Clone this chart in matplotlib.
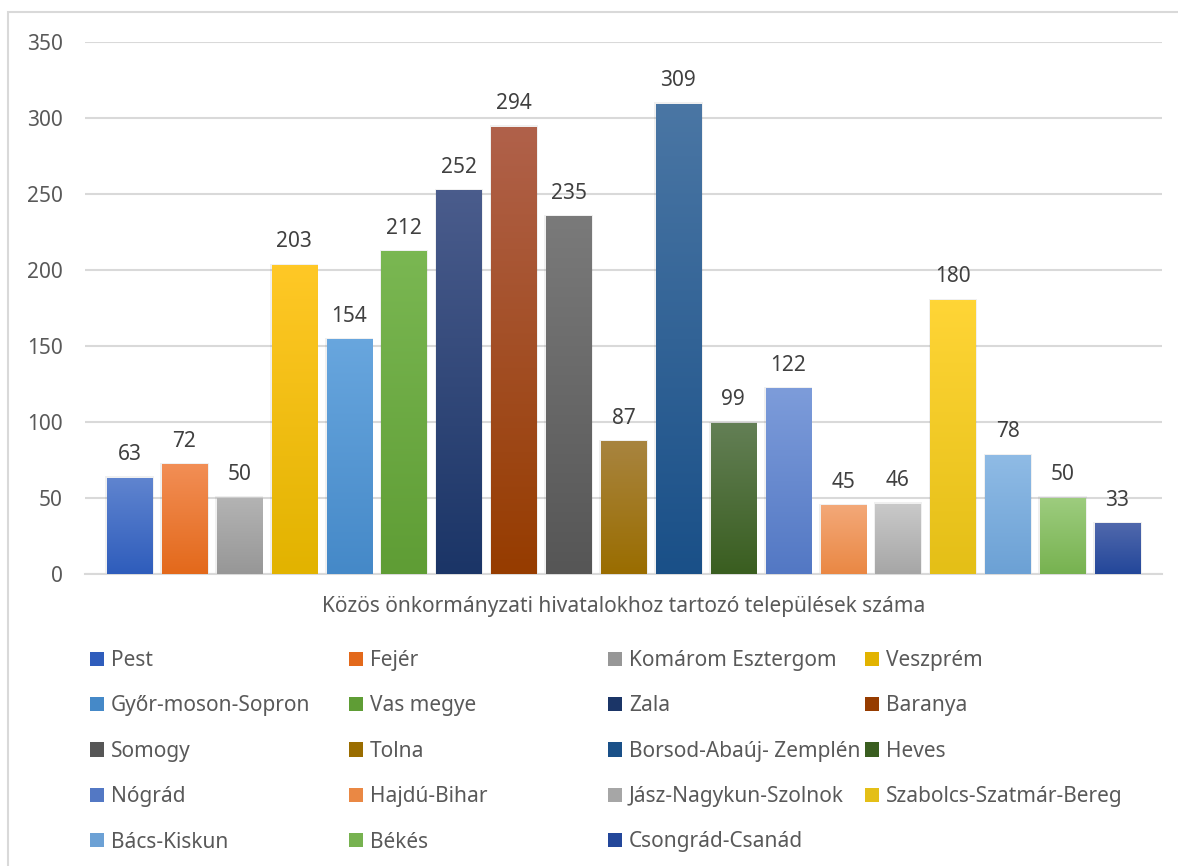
import numpy as np
import matplotlib.pyplot as plt
from matplotlib.patches import Rectangle
from matplotlib.colors import to_rgb

# county names and number of settlements
counties = ["Pest", "Fejér", "Komárom Esztergom", "Veszprém",
            "Győr-moson-Sopron", "Vas megye", "Zala", "Baranya",
            "Somogy", "Tolna", "Borsod-Abaúj- Zemplén", "Heves",
            "Nógrád", "Hajdú-Bihar", "Jász-Nagykun-Szolnok", "Szabolcs-Szatmár-Bereg",
            "Bács-Kiskun", "Békés", "Csongrád-Csanád"]
values = [63, 72, 50, 203, 154, 212, 252, 294, 235, 87, 309, 99,
          122, 45, 46, 180, 78, 50, 33]
yticks = [0, 50, 100, 150, 200, 250, 300, 350]
xlabel = "Közös önkormányzati hivatalokhoz tartozó települések száma"

# excel-ish colours, (top, bottom) of each gradient
colors = [("#5F84CF", "#2F5DBC"), ("#F28E55", "#E3691B"), ("#B3B3B3", "#979797"),
          ("#FFC826", "#E2B300"), ("#68A6DE", "#4589C8"), ("#7AB752", "#5F9D35"),
          ("#4A5C8C", "#1B3567"), ("#B0614A", "#963C00"), ("#7A7A7A", "#565656"),
          ("#A8843F", "#9A6D00"), ("#4A76A4", "#1A5088"), ("#637F55", "#3A5E20"),
          ("#7D9CDA", "#5378C4"), ("#F3A878", "#EA8844"), ("#C9C9C9", "#A6A6A6"),
          ("#FFD536", "#E4BF17"), ("#8FBBE5", "#6CA1D5"), ("#9DCC7E", "#77B250"),
          ("#5068AC", "#23479A")]

txt = "#595959"
grid = "#D9D9D9"
plt.rcParams['font.family'] = ['Noto Sans', 'DejaVu Sans']

W, H = 1178, 866
fig = plt.figure(figsize=(W / 100, H / 100), dpi=100)
# chart frame, only top and left edges fall inside the picture
fig.patches.append(Rectangle((8 / W, -1), 2, 2 - 12 / H, transform=fig.transFigure,
                             fill=False, edgecolor=grid, lw=1.5))

ax = fig.add_axes([85 / W, 1 - 574 / H, (1162 - 85) / W, (574 - 42) / H])

x = np.arange(len(values))
bw = 0.82


def grad(c1, c2, n=64):
    a = np.array(to_rgb(c1))
    b = np.array(to_rgb(c2))
    t = np.linspace(0, 1, n)[:, None]
    return (a * (1 - t) + b * t)[:, None, :]


for i, v in enumerate(values):
    # soft shadow
    ax.add_patch(Rectangle((x[i] - bw / 2 - 0.03, 0), bw + 0.06, v + 1.2,
                           facecolor="#000000", alpha=0.06, lw=0, zorder=2))
    ax.imshow(grad(*colors[i]), extent=[x[i] - bw / 2, x[i] + bw / 2, 0, v],
              aspect="auto", origin="upper", zorder=3, interpolation="bilinear")
    ax.annotate(str(v), (x[i], v), xytext=(0, 13), textcoords="offset points",
                ha="center", va="baseline", fontsize=15, color="#404040")

ax.set_xlim(-0.81, len(values) - 1 + 0.81)
ax.set_ylim(0, 350)
ax.set_yticks(yticks)
ax.set_xticks([])
ax.tick_params(axis="y", length=0, pad=16, labelsize=15, labelcolor=txt)
ax.grid(axis="y", color=grid, lw=1.5)
ax.set_axisbelow(True)
for s in ["top", "right", "left"]:
    ax.spines[s].set_visible(False)
ax.spines["bottom"].set_color(grid)
ax.spines["bottom"].set_linewidth(1.5)
ax.set_xlabel(xlabel, fontsize=15, color=txt, labelpad=16)

# legend, one block per column so the columns sit where excel puts them
handles = [Rectangle((0, 0), 1, 1, facecolor=colors[i][1]) for i in range(len(counties))]
colx = [90, 349, 608, 865]
for j in range(4):
    fig.legend(handles[j::4], counties[j::4], loc="upper left",
               bbox_to_anchor=(colx[j] / W, 1 - 650 / H), frameon=False,
               fontsize=15, labelcolor=txt, handlelength=0.67, handleheight=0.67,
               handletextpad=0.33, labelspacing=1.17, borderpad=0, borderaxespad=0)

fig.savefig("out.png", dpi=100)
